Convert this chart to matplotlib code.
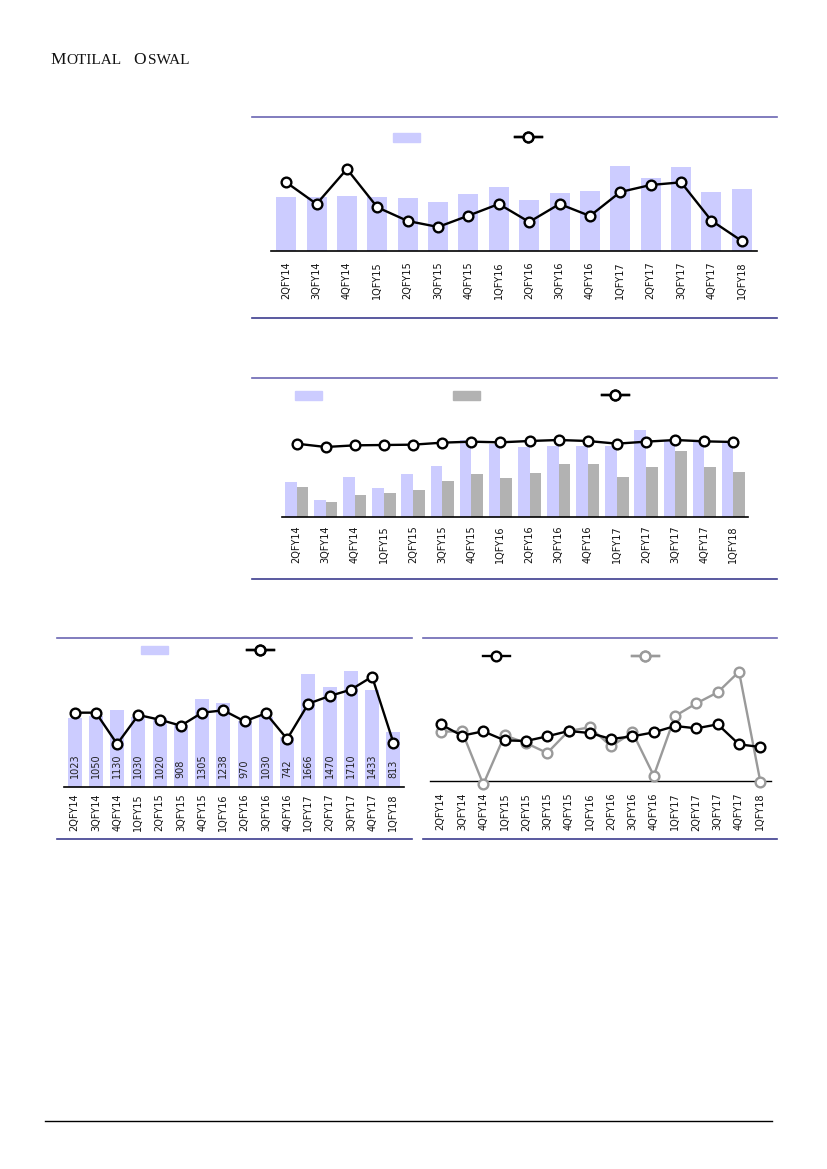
import matplotlib
matplotlib.use('Agg')
import matplotlib.pyplot as plt
from matplotlib.lines import Line2D
from matplotlib.patches import Patch

W, H = 827, 1169

quarters = ['2QFY14', '3QFY14', '4QFY14', '1QFY15', '2QFY15', '3QFY15', '4QFY15', '1QFY16',
            '2QFY16', '3QFY16', '4QFY16', '1QFY17', '2QFY17', '3QFY17', '4QFY17', '1QFY18']

# chart 1: bars + margin line
c1_bars = [164, 164, 166, 163, 160, 147, 173, 193, 155, 176, 181, 257, 219, 254, 178, 187]
c1_line = [20.7, 14.2, 24.7, 13.2, 9.1, 7.3, 10.7, 14.2, 8.8, 14.2, 10.6, 17.8, 19.9, 20.7, 9.2, 3.1]

# chart 2: two bar series + line
c2_bars_a = [104, 52, 120, 88, 129, 153, 231, 218, 210, 213, 213, 214, 261, 229, 226, 223]
c2_bars_b = [90, 45, 66, 72, 81, 108, 129, 116, 132, 158, 158, 120, 150, 197, 150, 135]
c2_line = [22.0, 21.0, 21.5, 21.6, 21.7, 22.3, 22.6, 22.4, 22.8, 23.1, 22.8, 22.0, 22.6, 23.1, 22.7, 22.5]

# chart 3: labelled bars + line
c3_bars = [1023, 1050, 1130, 1030, 1020, 908, 1305, 1238, 970, 1030, 742, 1666, 1470, 1710, 1433, 813]
c3_line = [22.3, 22.3, 12.9, 21.6, 20.2, 18.4, 22.3, 23.0, 19.7, 22.1, 14.4, 25.0, 27.3, 29.2, 33.1, 13.3]

# chart 4: two lines
c4_black = [17.0, 13.6, 14.9, 12.2, 12.0, 13.4, 15.0, 14.4, 12.6, 13.4, 14.6, 16.5, 15.8, 17.0, 11.0, 10.2]
c4_grey = [14.8, 14.9, -1.0, 13.7, 11.4, 8.4, 15.0, 16.1, 10.4, 14.6, 1.6, 19.5, 23.3, 26.6, 32.8, -0.2]

LAV = '#ccccff'
GREY_BAR = '#b2b2b2'
GREY_LINE = '#9a9a9a'
RULE_TOP = '#6b66b3'
RULE_BOT = '#3d3d8f'

plt.rcParams['font.family'] = ['DejaVu Sans']

fig = plt.figure(figsize=(W / 100, H / 100), dpi=100)


def px_axes(left, top, right, bottom):
    return fig.add_axes([left / W, 1 - bottom / H, (right - left) / W, (bottom - top) / H])


def rule(x0, x1, y, color, lw=1.2):
    fig.add_artist(Line2D([x0 / W, x1 / W], [1 - y / H, 1 - y / H], color=color, lw=lw))


def key(ax, handle, x, y):
    leg = ax.legend([handle], [''], loc='center left', bbox_to_anchor=(x / W, 1 - y / H),
                    bbox_transform=fig.transFigure, frameon=False, borderpad=0,
                    borderaxespad=0, handlelength=2.15, handletextpad=0, fontsize=9,
                    numpoints=1)
    ax.add_artist(leg)


def style(ax, pad):
    for s in ['top', 'right', 'left']:
        ax.spines[s].set_visible(False)
    ax.spines['bottom'].set_color('black')
    ax.spines['bottom'].set_linewidth(1.2)
    ax.set_yticks([])
    ax.set_xlim(-0.5, len(quarters) - 0.5)
    ax.set_xticks(range(len(quarters)))
    ax.set_xticklabels(quarters, rotation=90, fontsize=7, color='#111111')
    ax.tick_params(axis='x', length=0, pad=pad)
    ax.patch.set_alpha(0)


def line_kw(color='black'):
    return dict(color=color, lw=1.7, marker='o', markersize=7, markerfacecolor='white',
                markeredgecolor=color, markeredgewidth=1.7, clip_on=False, zorder=5)


x = list(range(len(quarters)))

# logo
logo = dict(family='Liberation Serif', va='baseline', color='#111111')
fig.text(50 / W, 1 - 64.3 / H, 'M', fontsize=12.5, **logo)
fig.text(66 / W, 1 - 64.3 / H, 'OTILAL', fontsize=11, **logo)
fig.text(133 / W, 1 - 64.3 / H, 'O', fontsize=12.5, **logo)
fig.text(148 / W, 1 - 64.3 / H, 'SWAL', fontsize=11, **logo)

# ---- chart 1
rule(252, 777, 117, RULE_TOP)
rule(252, 777, 318, RULE_BOT)
ax1 = px_axes(271, 128, 757, 251.3)
ax1.bar(x, c1_bars, width=0.66, color=LAV)
ax1.set_ylim(0, 370)
style(ax1, 7.5)
ax1b = ax1.twinx()
ax1b.plot(x, c1_line, **line_kw())
ax1b.set_ylim(0, 37)
ax1b.axis('off')
key(ax1b, Patch(color=LAV), 393, 138)
key(ax1b, Line2D([], [], **line_kw()), 515, 138)

# ---- chart 2
rule(252, 777, 378, RULE_TOP)
rule(252, 777, 579, RULE_BOT)
ax2 = px_axes(282, 405, 748, 517)
ax2.bar([i - 0.2 for i in x], c2_bars_a, width=0.4, color=LAV)
ax2.bar([i + 0.2 for i in x], c2_bars_b, width=0.4, color=GREY_BAR)
ax2.set_ylim(0, 336)
style(ax2, 6)
ax2b = ax2.twinx()
ax2b.plot(x, c2_line, **line_kw())
ax2b.set_ylim(0, 33.6)
ax2b.axis('off')
key(ax2b, Patch(color=LAV), 295, 396)
key(ax2b, Patch(color=GREY_BAR), 453, 396)
key(ax2b, Line2D([], [], **line_kw()), 602, 396)

# ---- chart 3
rule(57, 412, 638, RULE_TOP)
rule(57, 412, 839, RULE_BOT)
ax3 = px_axes(64, 645, 404, 787)
ax3.bar(x, c3_bars, width=0.66, color=LAV)
ax3.set_ylim(0, 2094)
for i, v in enumerate(c3_bars):
    ax3.annotate(str(v), (i, 0), xytext=(0, 6.5), textcoords='offset points', rotation=90,
                 ha='center', va='bottom', fontsize=7, color='#222222')
style(ax3, 4.5)
ax3b = ax3.twinx()
ax3b.plot(x, c3_line, **line_kw())
ax3b.set_ylim(0, 42.6)
ax3b.axis('off')
key(ax3b, Patch(color=LAV), 141, 651)
key(ax3b, Line2D([], [], **line_kw()), 247, 651)

# ---- chart 4
rule(423, 777, 638, RULE_TOP)
rule(423, 777, 839, RULE_BOT)
ax4 = px_axes(430, 665, 771, 790)
ax4.spines['bottom'].set_position(('data', 0))
ax4.plot(x, c4_grey, **dict(line_kw(GREY_LINE), zorder=4))
ax4.plot(x, c4_black, **line_kw())
ax4.set_ylim(-2.7, 34.8)
style(ax4, 8.5)
ax4.spines['bottom'].set_linewidth(1.0)
key(ax4, Line2D([], [], **line_kw()), 483, 657)
key(ax4, Line2D([], [], **line_kw(GREY_LINE)), 632, 657)

# footer rule
rule(45, 772, 1121, 'black', lw=1.0)

fig.savefig('out.png', dpi=100)
